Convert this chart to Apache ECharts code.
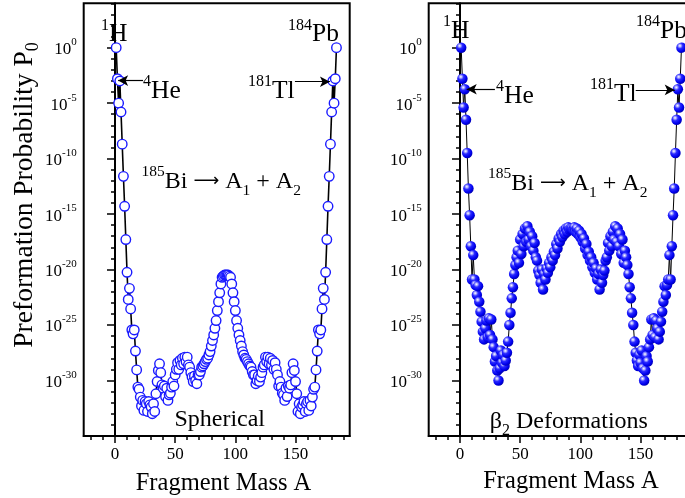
<!DOCTYPE html>
<html><head><meta charset="utf-8">
<script src="https://cdn.jsdelivr.net/npm/echarts@6/dist/echarts.min.js"></script>
<style>html,body{margin:0;padding:0;background:#fff}#c{width:685px;height:498px}</style>
</head><body><div id="c"></div><script>
// log10 of preformation probability P0 for fragment mass A = 1..184 (185Bi -> A1 + A2)
const sphericalLogP = [
  0, -2.8, -5.0, -3.0, -5.8, -8.7, -11.6, -14.3, -17.3, -20.25,
  -22.7, -21.7, -23.55, -25.45, -25.8, -25.45, -27.35, -29.05, -30.6, -30.8,
  -31.5, -32.3, -31.8, -32.7, -31.9, -32.1, -32.8, -31.9, -32.2, -32.4,
  -33.0, -32.1, -32.8, -31.2, -30.1, -29.1, -28.5, -29.3, -30.4, -30.7,
  -30.5, -31.45, -30.7, -31.8, -31.3, -31.15, -30.6, -30.1, -30.5, -29.5,
  -29.0, -28.4, -29.0, -28.2, -28.6, -28.0, -28.5, -27.9, -28.3, -27.9,
  -28.6, -28.8, -29.3, -29.7, -30.1, -29.6, -30.0, -30.3, -29.5, -29.5,
  -29.2, -28.8, -28.7, -28.5, -28.3, -28.1, -28.0, -27.7, -27.4, -26.9,
  -26.4, -25.9, -25.3, -24.6, -23.7, -22.9, -22.1, -21.3, -20.7, -20.6,
  -20.5, -20.5,
  -20.5, -20.5, -20.6, -20.7, -21.3, -22.1, -22.9, -23.7, -24.6, -25.3,
  -25.9, -26.4, -26.9, -27.4, -27.7, -28.0, -28.1, -28.3, -28.5, -28.7,
  -28.8, -29.2, -29.5, -29.5, -30.3, -30.0, -29.6, -30.1, -29.7, -29.3,
  -28.8, -28.6, -27.9, -28.3, -27.9, -28.5, -28.0, -28.6, -28.2, -29.0,
  -28.4, -29.0, -29.5, -30.5, -30.1, -30.6, -31.15, -31.3, -31.8, -30.7,
  -31.45, -30.5, -30.7, -30.4, -29.3, -28.5, -29.1, -30.1, -31.2, -32.8,
  -32.1, -33.0, -32.4, -32.2, -31.9, -32.8, -32.1, -31.9, -32.7, -31.8,
  -32.3, -31.5, -30.8, -30.6, -29.05, -27.35, -25.45, -25.8, -25.45, -23.55,
  -21.7, -22.7, -20.25, -17.3, -14.3, -11.6, -8.7, -5.8, -3.0, -5.0, -2.8, 0
];
const deformedLogP = [
  0, -2.8, -5.4, -3.75, -6.5, -9.5, -12.7, -15.1, -17.9, -20.9,
  -18.7, -20.9, -21.4, -22.3, -21.5, -22.9, -23.8, -24.7, -25.6, -26.3,
  -25.3, -24.6, -26.1, -24.4, -25.9, -24.5, -26.3, -27.0, -28.3, -27.8,
  -29.1, -30.0, -28.9, -27.3, -28.4, -27.7, -28.7, -28.2, -27.5, -26.5,
  -25.0, -23.9, -22.6, -21.6, -20.4, -19.6, -18.9, -18.3, -19.4, -17.3,
  -18.6, -16.8, -17.9, -16.3, -17.5, -16.1, -17.3, -16.6, -17.9, -17.0,
  -18.3, -17.6, -18.9, -19.2, -20.1, -20.5, -21.2, -20.0, -21.8, -20.4,
  -20.9, -19.9, -20.3, -19.4, -19.8, -18.9, -19.2, -18.4, -18.7, -17.7,
  -18.1, -17.2, -17.5, -16.8, -17.1, -16.5, -16.8, -16.3, -16.6, -16.2,
  -16.4, -16.3,
  -16.3, -16.4, -16.2, -16.6, -16.3, -16.8, -16.5, -17.1, -16.8, -17.5,
  -17.2, -18.1, -17.7, -18.7, -18.4, -19.2, -18.9, -19.8, -19.4, -20.3,
  -19.9, -20.9, -20.4, -21.8, -20.0, -21.2, -20.5, -20.1, -19.2, -18.9,
  -17.6, -18.3, -17.0, -17.9, -16.6, -17.3, -16.1, -17.5, -16.3, -17.9,
  -16.8, -18.6, -17.3, -19.4, -18.3, -18.9, -19.6, -20.4, -21.6, -22.6,
  -23.9, -25.0, -26.5, -27.5, -28.2, -28.7, -27.7, -28.4, -27.3, -28.9,
  -30.0, -29.1, -27.8, -28.3, -27.0, -26.3, -24.5, -25.9, -24.4, -26.1,
  -24.6, -25.3, -26.3, -25.6, -24.7, -23.8, -22.9, -21.5, -22.3, -21.4,
  -20.9, -18.7, -20.9, -17.9, -15.1, -12.7, -9.5, -6.5, -3.75, -5.4, -2.8, 0
];
const xMajorTicks = [0, 50, 100, 150];
const xMinorTicks = [-20, -10, 0, 10, 20, 30, 40, 50, 60, 70, 80, 90, 100, 110, 120, 130, 140, 150, 160, 170, 180, 190];
const yMajorExps = [0, -5, -10, -15, -20, -25, -30];
const yMinorExps = [4, 3, 2, 1, 0, -1, -2, -3, -4, -5, -6, -7, -8, -9, -10, -11, -12, -13, -14, -15, -16, -17, -18, -19, -20, -21, -22, -23, -24, -25, -26, -27, -28, -29, -30, -31, -32, -33, -34, -35];
// annotation arrows: [fromA, toA, log10 P]
const arrowsLeft = [[23.3, 2.6, -2.97], [149.5, 178.6, -3.07]];
const arrowsRight = [[29, 5.6, -3.75], [146, 178.4, -3.81]];

const FONT = '"Liberation Serif", "Times New Roman", Times, serif';
const X_MIN = -26, X_MAX = 195, Y_MIN = 1e-35, Y_MAX = 1e4;
const pow10 = e => Math.pow(10, e);

const chart = echarts.init(document.getElementById('c'), null, {renderer: 'canvas'});

const grids = [
  {left: 83.7, top: 3.3, width: 266, height: 432.6, show: true, borderColor: '#000', borderWidth: 2, backgroundColor: 'transparent', outerBoundsMode: 'none', containLabel: false},
  {left: 428.7, top: 3.3, width: 266, height: 432.6, show: true, borderColor: '#000', borderWidth: 2, backgroundColor: 'transparent', outerBoundsMode: 'none', containLabel: false}
];

const xAxes = [], yAxes = [];
[0, 1].forEach(g => {
  xAxes.push({
    type: 'value', gridIndex: g, min: X_MIN, max: X_MAX, position: 'bottom',
    axisLine: {show: true, onZero: false, lineStyle: {color: '#000', width: 2}},
    axisTick: {show: true, customValues: xMajorTicks, length: 7, inside: false, lineStyle: {color: '#000', width: 1.5}},
    axisLabel: {show: true, customValues: xMajorTicks, margin: 10, color: '#000', fontSize: 17, fontFamily: FONT},
    splitLine: {show: false}
  });
  xAxes.push({
    type: 'value', gridIndex: g, min: X_MIN, max: X_MAX, position: 'bottom', offset: 0,
    axisLine: {show: false, onZero: false},
    axisTick: {show: true, customValues: xMinorTicks, length: 4, lineStyle: {color: '#000', width: 1.5}},
    axisLabel: {show: false},
    splitLine: {show: false}
  });
  yAxes.push({
    type: 'log', logBase: 10, gridIndex: g, min: Y_MIN, max: Y_MAX, position: 'left',
    axisLine: {show: true, lineStyle: {color: '#000', width: 2}},
    axisTick: {show: true, customValues: yMajorExps.map(pow10), length: 8, lineStyle: {color: '#000', width: 1.5}},
    axisLabel: {
      show: true, customValues: yMajorExps.map(pow10), margin: 7, color: '#000',
      formatter: v => '{b|10}{s|' + Math.round(Math.log10(v)) + '}',
      rich: {
        b: {fontSize: 17, fontFamily: FONT, color: '#000', lineHeight: 24, padding: [4, 0, 0, 0]},
        s: {fontSize: 11, fontFamily: FONT, color: '#000', lineHeight: 11, padding: [3, 0, 14, 0]}
      }
    },
    splitLine: {show: false}
  });
  yAxes.push({
    type: 'log', logBase: 10, gridIndex: g, min: Y_MIN, max: Y_MAX, position: 'left', offset: 0,
    axisLine: {show: false},
    axisTick: {show: true, customValues: yMinorExps.map(pow10), length: 4, lineStyle: {color: '#000', width: 1.5}},
    axisLabel: {show: false},
    splitLine: {show: false}
  });
});

function arrowMark(list) {
  return {
    silent: true, animation: false,
    symbol: ['none', 'arrow'], symbolSize: [8, 10],
    lineStyle: {color: '#000', width: 1.2, type: 'solid'},
    label: {show: false},
    emphasis: {disabled: true},
    data: list.map(a => [{coord: [a[0], pow10(a[2])]}, {coord: [a[1], pow10(a[2])]}])
  };
}

const sphere = {
  type: 'radial', x: 0.35, y: 0.32, r: 0.72,
  colorStops: [
    {offset: 0, color: '#ffffff'},
    {offset: 0.16, color: '#b0b0ff'},
    {offset: 0.38, color: '#2a2aff'},
    {offset: 0.75, color: '#0000ee'},
    {offset: 1, color: '#0000b0'}
  ]
};

const series = [
  {
    type: 'line', xAxisIndex: 0, yAxisIndex: 0,
    data: sphericalLogP.map((e, i) => [i + 1, pow10(e)]),
    symbol: 'circle', symbolSize: 9.5, showAllSymbol: true,
    lineStyle: {color: '#000', width: 1.6},
    itemStyle: {color: '#fff', borderColor: '#1a1aff', borderWidth: 1.4},
    emphasis: {disabled: true},
    markLine: arrowMark(arrowsLeft),
    z: 3
  },
  {
    type: 'line', xAxisIndex: 2, yAxisIndex: 2,
    data: deformedLogP.map((e, i) => [i + 1, pow10(e)]),
    symbol: 'circle', symbolSize: 10.5, showAllSymbol: true,
    lineStyle: {color: '#000', width: 1},
    itemStyle: {color: sphere, borderWidth: 0},
    emphasis: {disabled: true},
    markLine: arrowMark(arrowsRight),
    z: 3
  }
];

function makeRich(size, small, arrSize) {
  const pad = 34 - small;
  return {
    b: {fontSize: size, fontFamily: FONT, color: '#000', lineHeight: 34},
    arr: {fontSize: arrSize || 19, fontFamily: '"DejaVu Sans", sans-serif', color: '#000', lineHeight: 34},
    sup: {fontSize: small, fontFamily: FONT, color: '#000', lineHeight: small, padding: [0, 0, pad, 0]},
    sub: {fontSize: small, fontFamily: FONT, color: '#000', lineHeight: small, padding: [pad, 0, 0, 0]}
  };
}
const richAnno = makeRich(25.5, 16);
const richEq = makeRich(24, 15.5, 18);
const richLabel = makeRich(24, 16);
const richTitle = makeRich(24.5, 16);
const richYTitle = makeRich(27.5, 18);

function txt(x, y, text, rich, align) {
  return {
    type: 'text', x: x, y: y, silent: true, z: 10,
    style: {text: text, rich: rich, align: align || 'left', verticalAlign: 'middle', fill: '#000'}
  };
}

const EQ = '{sup|185}{b|Bi }{arr|\u27F6}{b| A}{sub|1}{b| + A}{sub|2}';
const graphic = [
  // left panel
  txt(101, 34.5, '{sup|1}{b|H}', richAnno),
  txt(143, 91, '{sup|4}{b|He}', richAnno),
  txt(288, 34.5, '{sup|184}{b|Pb}', richAnno),
  txt(248, 91, '{sup|181}{b|Tl}', richAnno),
  txt(141.5, 181.5, EQ, richEq),
  txt(219.7, 419.5, '{b|Spherical}', richLabel, 'center'),
  txt(223.5, 484, '{b|Fragment Mass A}', richTitle, 'center'),
  // right panel
  txt(443, 31, '{sup|1}{b|H}', richAnno),
  txt(496, 96, '{sup|4}{b|He}', richAnno),
  txt(636, 31, '{sup|184}{b|Pb}', richAnno),
  txt(590, 94, '{sup|181}{b|Tl}', richAnno),
  txt(488, 183.5, EQ, richEq),
  txt(568.8, 421.5, '{b|β}{sub|2}{b| Deformations}', richLabel, 'center'),
  txt(571, 481.5, '{b|Fragment Mass A}', richTitle, 'center'),
  // y-axis title
  {
    type: 'text', x: 25, y: 195, rotation: Math.PI / 2, silent: true, z: 10,
    style: {text: '{b|Preformation Probability P}{sub|0}', rich: richYTitle, align: 'center', verticalAlign: 'middle', fill: '#000'}
  }
];

chart.setOption({
  animation: false,
  backgroundColor: '#fff',
  grid: grids,
  xAxis: xAxes,
  yAxis: yAxes,
  series: series,
  graphic: graphic
});
</script></body></html>
